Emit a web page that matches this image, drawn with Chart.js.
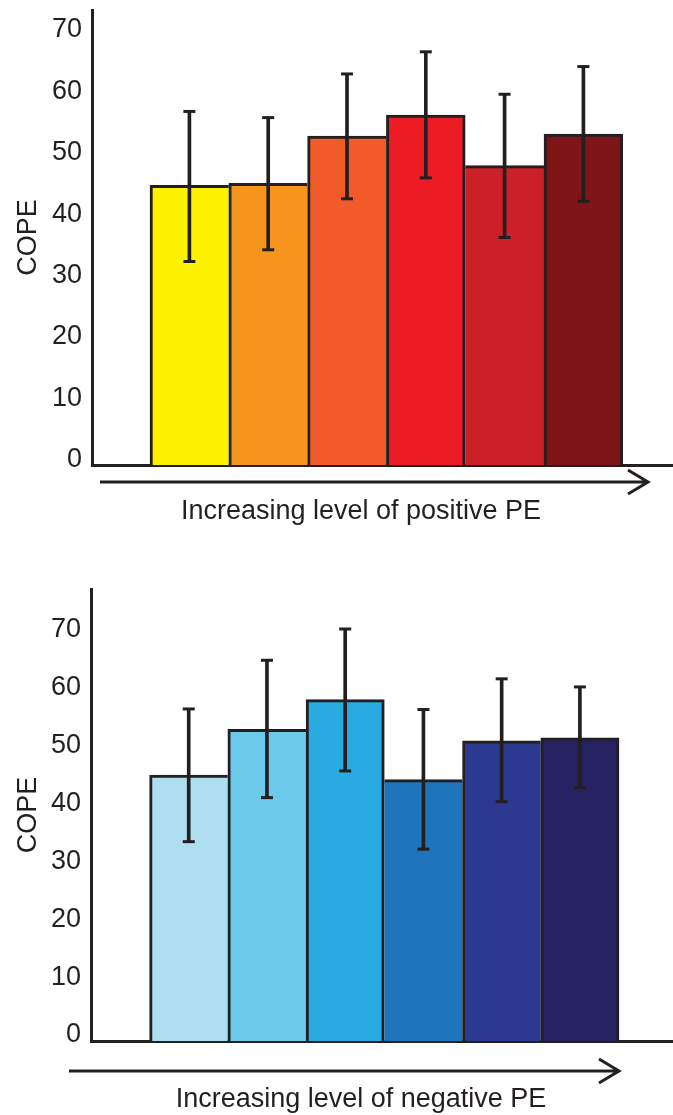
<!DOCTYPE html>
<html>
<head>
<meta charset="utf-8">
<script src="https://cdn.jsdelivr.net/npm/chart.js@4.4.1/dist/chart.umd.min.js"></script>
<style>
  html, body { margin: 0; padding: 0; background: #fff; }
  body { width: 673px; height: 1115px; position: relative; overflow: hidden; }
  canvas { position: absolute; left: 0; }
  #posChart { top: 0; }
  #negChart { top: 560px; }
</style>
</head>
<body>
<canvas id="posChart" width="673" height="540"></canvas>
<canvas id="negChart" width="673" height="555"></canvas>
<script>
// PE levels (bar positions), shared by both panels
const levels = [1, 2, 3, 4, 5, 6];
const yTicks = [0, 10, 20, 30, 40, 50, 60, 70];

// positive PE panel
const posCope = [45.5, 45.8, 53.5, 56.9, 48.7, 53.8];
const posLow  = [33.1, 35.0, 43.3, 46.7, 37.0, 42.9];
const posHigh = [57.5, 56.5, 63.6, 67.2, 60.3, 64.8];
const posColors = ["#FFF200", "#F7941D", "#F15A29", "#ED1C24", "#CB2027", "#7F1518"];

// negative PE panel
const negCope = [45.9, 53.8, 58.9, 45.1, 51.8, 52.3];
const negLow  = [34.4, 42.0, 46.6, 33.1, 41.3, 43.7];
const negHigh = [57.3, 65.7, 71.1, 57.2, 62.5, 61.1];
const negColors = ["#ADDFF0", "#6BC9EA", "#29ABE2", "#1F75BC", "#2B3990", "#262262"];

const INK = "#231F20";
const FONT = "'Liberation Sans', Arial, Helvetica, sans-serif";

// arrow + caption under the x axis
const arrowCaption = {
    id: "arrowCaption",
    afterDraw(chart, args, opts) {
        const { ctx, chartArea } = chart;
        const y = chartArea.bottom + opts.arrowGap;
        ctx.save();
        ctx.strokeStyle = INK;
        ctx.lineWidth = 3;
        ctx.beginPath();
        ctx.moveTo(opts.x0, y);
        ctx.lineTo(opts.x1, y);
        ctx.moveTo(opts.x1 - 20, y - 12);
        ctx.lineTo(opts.x1, y);
        ctx.lineTo(opts.x1 - 20, y + 12);
        ctx.stroke();
        ctx.fillStyle = INK;
        ctx.font = "27px " + FONT;
        ctx.textAlign = "center";
        ctx.textBaseline = "middle";
        ctx.fillText(opts.text, opts.textX, chartArea.bottom + opts.textGap);
        ctx.restore();
    }
};

function makePanel(id, cope, low, high, colors, p) {
    const n = levels.length;
    // shared edge between two bars is outlined once, by the taller bar
    const edges = c => {
        const i = c.dataIndex;
        return {
            top: 3,
            left: (i === 0 || cope[i - 1] <= cope[i]) ? 3 : 0,
            right: (i === n - 1 || cope[i + 1] < cope[i]) ? 3 : 0,
            bottom: 0
        };
    };
    new Chart(document.getElementById(id), {
        type: "bar",
        data: {
            datasets: [
                {
                    // caps of the error bars
                    type: "scatter",
                    order: 1,
                    data: levels.map((x, i) => ({ x: x, y: low[i] }))
                        .concat(levels.map((x, i) => ({ x: x, y: high[i] }))),
                    pointStyle: "line",
                    pointRadius: 6,
                    pointHoverRadius: 6,
                    pointBorderWidth: 3,
                    pointBorderColor: INK,
                    showLine: false
                },
                {
                    // stems of the error bars
                    order: 2,
                    data: levels.map((x, i) => ({ x: x, y: [low[i], high[i]] })),
                    backgroundColor: INK,
                    borderWidth: 0,
                    grouped: false,
                    maxBarThickness: 3,
                    barPercentage: 1,
                    categoryPercentage: 1
                },
                {
                    order: 3,
                    data: levels.map((x, i) => ({ x: x, y: cope[i] })),
                    backgroundColor: colors,
                    borderColor: INK,
                    borderWidth: edges,
                    borderSkipped: "start",
                    grouped: false,
                    barPercentage: 1,
                    categoryPercentage: 1
                }
            ]
        },
        options: {
            responsive: false,
            animation: false,
            events: [],
            layout: { autoPadding: false, padding: { top: p.padTop, left: 0, right: 0, bottom: 0 } },
            plugins: {
                legend: { display: false },
                tooltip: { enabled: false },
                arrowCaption: p.caption
            },
            scales: {
                x: {
                    type: "linear",
                    min: p.xMin,
                    max: p.xMax,
                    offset: false,
                    z: 1,
                    grid: { display: false, drawTicks: false },
                    border: { display: true, width: 3, color: INK },
                    ticks: { display: false },
                    afterBuildTicks: s => { s.ticks = levels.map(v => ({ value: v })); },
                    afterFit: s => {
                        s.height = p.xHeight;
                        s.paddingLeft = s.paddingRight = 0;
                    }
                },
                y: {
                    min: 0,
                    max: p.yMax,
                    z: 1,
                    grid: { display: false, drawTicks: false },
                    border: { display: true, width: 3, color: INK },
                    ticks: {
                        color: INK,
                        font: { size: 27, family: FONT },
                        padding: 10,
                        labelOffset: p.labelOffset
                    },
                    afterBuildTicks: s => { s.ticks = yTicks.map(v => ({ value: v })); },
                    afterFit: s => {
                        s.width = p.yWidth;
                        s.paddingTop = s.paddingBottom = 0;
                    },
                    title: {
                        display: true,
                        text: "COPE",
                        color: INK,
                        font: { size: 27, family: FONT },
                        padding: { top: 12, bottom: 0 }
                    }
                }
            }
        },
        plugins: [arrowCaption]
    });
}

makePanel("posChart", posCope, posLow, posHigh, posColors, {
    padTop: 10, xHeight: 75, yWidth: 92, yMax: 74, labelOffset: -5,
    xMin: -0.236, xMax: 7.137,
    caption: { x0: 100, x1: 648, arrowGap: 17, text: "Increasing level of positive PE", textX: 361, textGap: 47 }
});

makePanel("negChart", negCope, negLow, negHigh, negColors, {
    padTop: 29, xHeight: 74, yWidth: 91, yMax: 78, labelOffset: -6,
    xMin: -0.249, xMax: 7.19,
    caption: { x0: 69, x1: 619, arrowGap: 30, text: "Increasing level of negative PE", textX: 361, textGap: 59 }
});
</script>
</body>
</html>
